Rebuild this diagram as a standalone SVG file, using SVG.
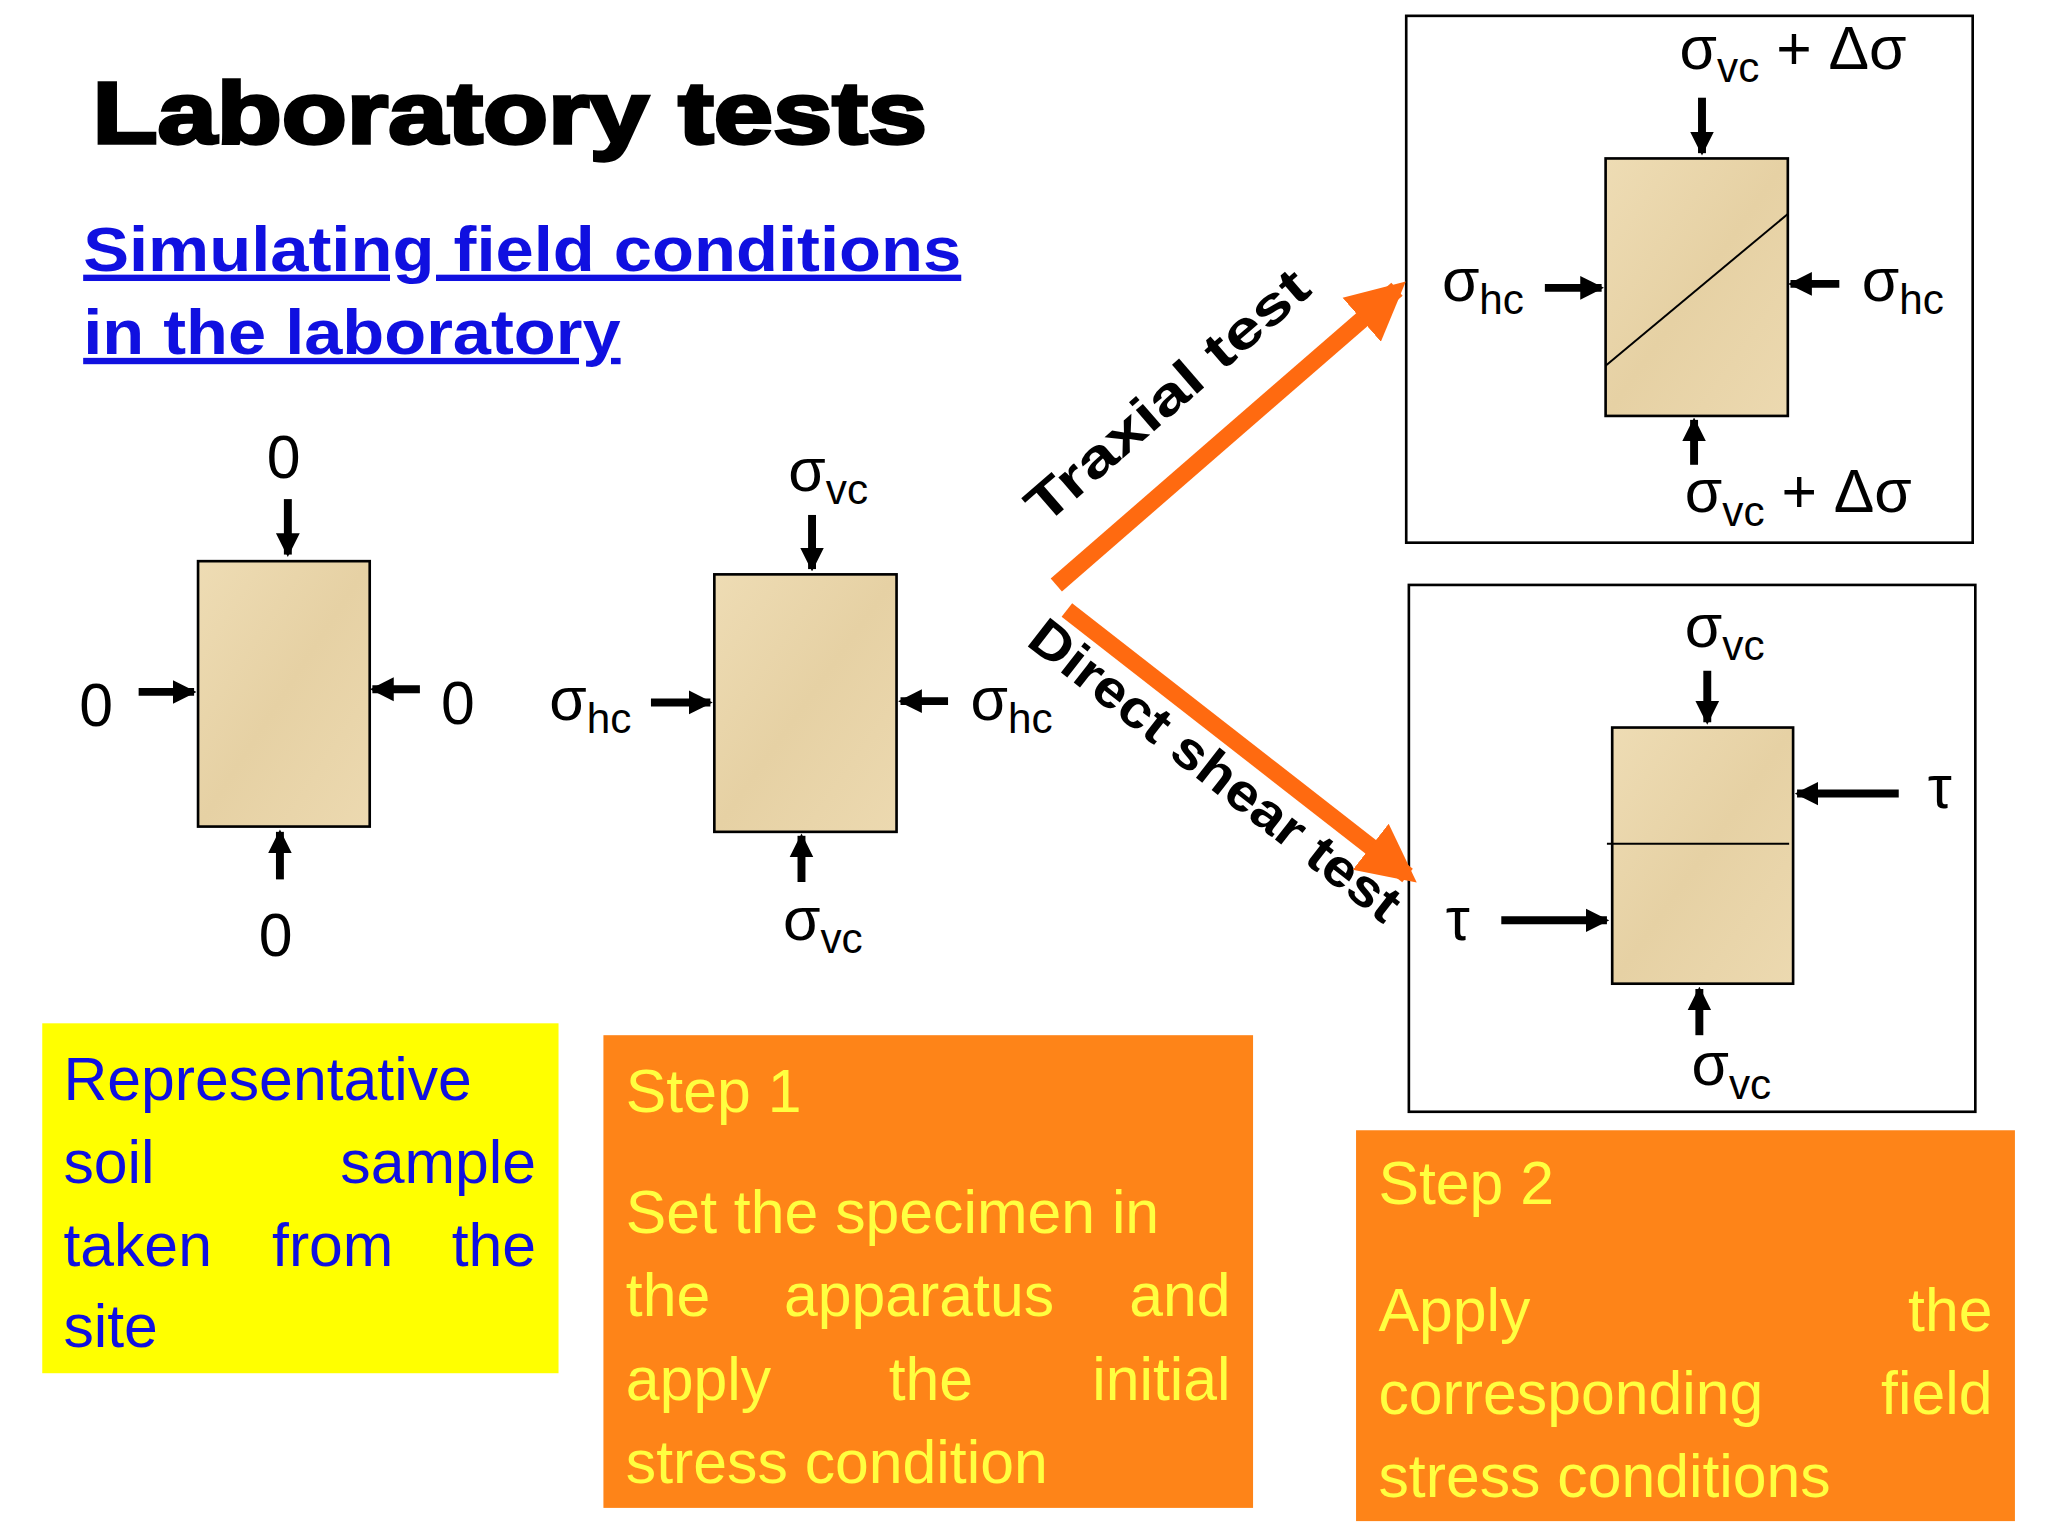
<svg xmlns="http://www.w3.org/2000/svg" width="2048" height="1536" viewBox="0 0 2048 1536">
<defs>
<linearGradient id="sand" x1="0" y1="0" x2="1" y2="1"><stop offset="0" stop-color="#eedcb4"/><stop offset="0.5" stop-color="#e6d1a4"/><stop offset="1" stop-color="#ecd9b0"/></linearGradient>
<marker id="ah" viewBox="0 0 10 10" refX="9" refY="5" markerWidth="3" markerHeight="3.2" orient="auto" markerUnits="strokeWidth"><path d="M0,0L10,5L0,10z" fill="#000"/></marker>
<marker id="oh" viewBox="0 0 10 10" refX="8" refY="5" markerWidth="3.4" markerHeight="3.6" orient="auto" markerUnits="strokeWidth"><path d="M0,0L10,5L0,10z" fill="#ff6a10"/></marker>
<style>
.t{font-family:"Liberation Sans",Arial,sans-serif;font-size:46px;fill:#000}
.s{font-size:32px}
.spec{fill:url(#sand);stroke:#000;stroke-width:2}
.ar{stroke:#000;stroke-width:6;marker-end:url(#ah)}
.box{fill:#fff;stroke:#000;stroke-width:2}
.or{stroke:#ff6a10;stroke-width:13;marker-end:url(#oh)}
.y{font-family:"Liberation Sans",Arial,sans-serif;font-size:46px;fill:#ffff40}
.b{font-family:"Liberation Sans",Arial,sans-serif;font-size:46px;fill:#1010e0}
.rt{font-family:"Liberation Sans",Arial,sans-serif;font-size:40px;font-weight:bold;fill:#000}
</style>
</defs>
<rect width="2048" height="1536" fill="#fff"/>
<g transform="scale(1.3204)">
<g id="title"><text x="70" y="108" font-family="Liberation Sans,Arial,sans-serif" font-size="66" font-weight="bold" stroke="#000" stroke-width="2.5" textLength="632" lengthAdjust="spacingAndGlyphs">Laboratory tests</text>
<text x="63" y="205" font-family="Liberation Sans,Arial,sans-serif" font-size="48" font-weight="bold" fill="#1010e0" text-decoration="underline" textLength="665" lengthAdjust="spacingAndGlyphs">Simulating field conditions</text>
<text x="63" y="268" font-family="Liberation Sans,Arial,sans-serif" font-size="48" font-weight="bold" fill="#1010e0" text-decoration="underline" textLength="407" lengthAdjust="spacingAndGlyphs">in the laboratory</text></g>

<g id="sample0"><rect class="spec" x="150" y="425" width="130" height="201"/>
<text class="t" x="202" y="362">0</text><text class="t" x="60" y="550">0</text><text class="t" x="334" y="548">0</text><text class="t" x="196" y="724">0</text></g>

<g id="sample1"><rect class="spec" x="541" y="435" width="138" height="195"/>
<text class="t" x="597" y="372">σ<tspan class="s" dy="10">vc</tspan></text>
<text class="t" x="416" y="545">σ<tspan class="s" dy="10">hc</tspan></text>
<text class="t" x="735" y="545">σ<tspan class="s" dy="10">hc</tspan></text>
<text class="t" x="593" y="712">σ<tspan class="s" dy="10">vc</tspan></text></g>

<g id="labels-arrows">
<text class="rt" transform="translate(893,310) rotate(-41)" text-anchor="middle" textLength="270" lengthAdjust="spacingAndGlyphs">Traxial test</text>
<text class="rt" transform="translate(912,594) rotate(38)" text-anchor="middle" textLength="345" lengthAdjust="spacingAndGlyphs">Direct shear test</text></g>

<g id="triaxial"><rect class="box" x="1065" y="12" width="429" height="399"/>
<rect class="spec" x="1216" y="120" width="138" height="195"/>
<line x1="1216" y1="277" x2="1354" y2="162" stroke="#000" stroke-width="1.5"/>
<text class="t" x="1272" y="52">σ<tspan class="s" dy="10">vc</tspan><tspan dy="-10"> + Δσ</tspan></text>
<text class="t" x="1092" y="228">σ<tspan class="s" dy="10">hc</tspan></text>
<text class="t" x="1410" y="228">σ<tspan class="s" dy="10">hc</tspan></text>
<text class="t" x="1276" y="388">σ<tspan class="s" dy="10">vc</tspan><tspan dy="-10"> + Δσ</tspan></text></g>

<g id="directshear"><rect class="box" x="1067" y="443" width="429" height="399"/>
<rect class="spec" x="1221" y="551" width="137" height="194"/>
<line x1="1217" y1="639" x2="1355" y2="639" stroke="#000" stroke-width="1.5"/>
<text class="t" x="1276" y="490">σ<tspan class="s" dy="10">vc</tspan></text>
<text class="t" x="1460" y="612">τ</text>
<text class="t" x="1095" y="712">τ</text>
<text class="t" x="1281" y="822">σ<tspan class="s" dy="10">vc</tspan></text></g>

<g id="connectors">
<line class="ar" x1="218" y1="378" x2="218" y2="420"/>
<line class="ar" x1="105" y1="524" x2="147" y2="524"/>
<line class="ar" x1="318" y1="522" x2="282" y2="522"/>
<line class="ar" x1="212" y1="666" x2="212" y2="630"/>
<line class="ar" x1="615" y1="390" x2="615" y2="431"/>
<line class="ar" x1="493" y1="532" x2="538" y2="532"/>
<line class="ar" x1="718" y1="531" x2="682" y2="531"/>
<line class="ar" x1="607" y1="668" x2="607" y2="633"/>
<line class="or" x1="800" y1="443" x2="1058" y2="219"/>
<line class="or" x1="808" y1="462" x2="1066" y2="663"/>
<line class="ar" x1="1289" y1="74" x2="1289" y2="116"/>
<line class="ar" x1="1170" y1="218" x2="1213" y2="218"/>
<line class="ar" x1="1393" y1="215" x2="1356" y2="215"/>
<line class="ar" x1="1283" y1="352" x2="1283" y2="318"/>
<line class="ar" x1="1293" y1="508" x2="1293" y2="547"/>
<line class="ar" x1="1438" y1="601" x2="1361" y2="601"/>
<line class="ar" x1="1137" y1="697" x2="1217" y2="697"/>
<line class="ar" x1="1287" y1="784" x2="1287" y2="749"/>
</g>

<g id="note0"><rect x="32" y="775" width="391" height="265" fill="#ffff00"/>
<text class="b" x="48" y="833">Representative</text>
<text class="b" x="48" y="896">soil</text><text class="b" x="406" y="896" text-anchor="end">sample</text>
<text class="b" x="48" y="959">taken</text><text class="b" x="252" y="959" text-anchor="middle">from</text><text class="b" x="406" y="959" text-anchor="end">the</text>
<text class="b" x="48" y="1020">site</text></g>

<g id="step1"><rect x="457" y="784" width="492" height="358" fill="#fe8418"/>
<text class="y" x="474" y="842">Step 1</text>
<text class="y" x="474" y="934">Set the specimen in</text>
<text class="y" x="474" y="997">the</text><text class="y" x="696" y="997" text-anchor="middle">apparatus</text><text class="y" x="932" y="997" text-anchor="end">and</text>
<text class="y" x="474" y="1060">apply</text><text class="y" x="705" y="1060" text-anchor="middle">the</text><text class="y" x="932" y="1060" text-anchor="end">initial</text>
<text class="y" x="474" y="1123">stress condition</text></g>

<g id="step2"><rect x="1027" y="856" width="499" height="296" fill="#fe8418"/>
<text class="y" x="1044" y="912">Step 2</text>
<text class="y" x="1044" y="1008">Apply</text><text class="y" x="1509" y="1008" text-anchor="end">the</text>
<text class="y" x="1044" y="1071">corresponding</text><text class="y" x="1509" y="1071" text-anchor="end">field</text>
<text class="y" x="1044" y="1134">stress conditions</text></g>
</g>
</svg>
